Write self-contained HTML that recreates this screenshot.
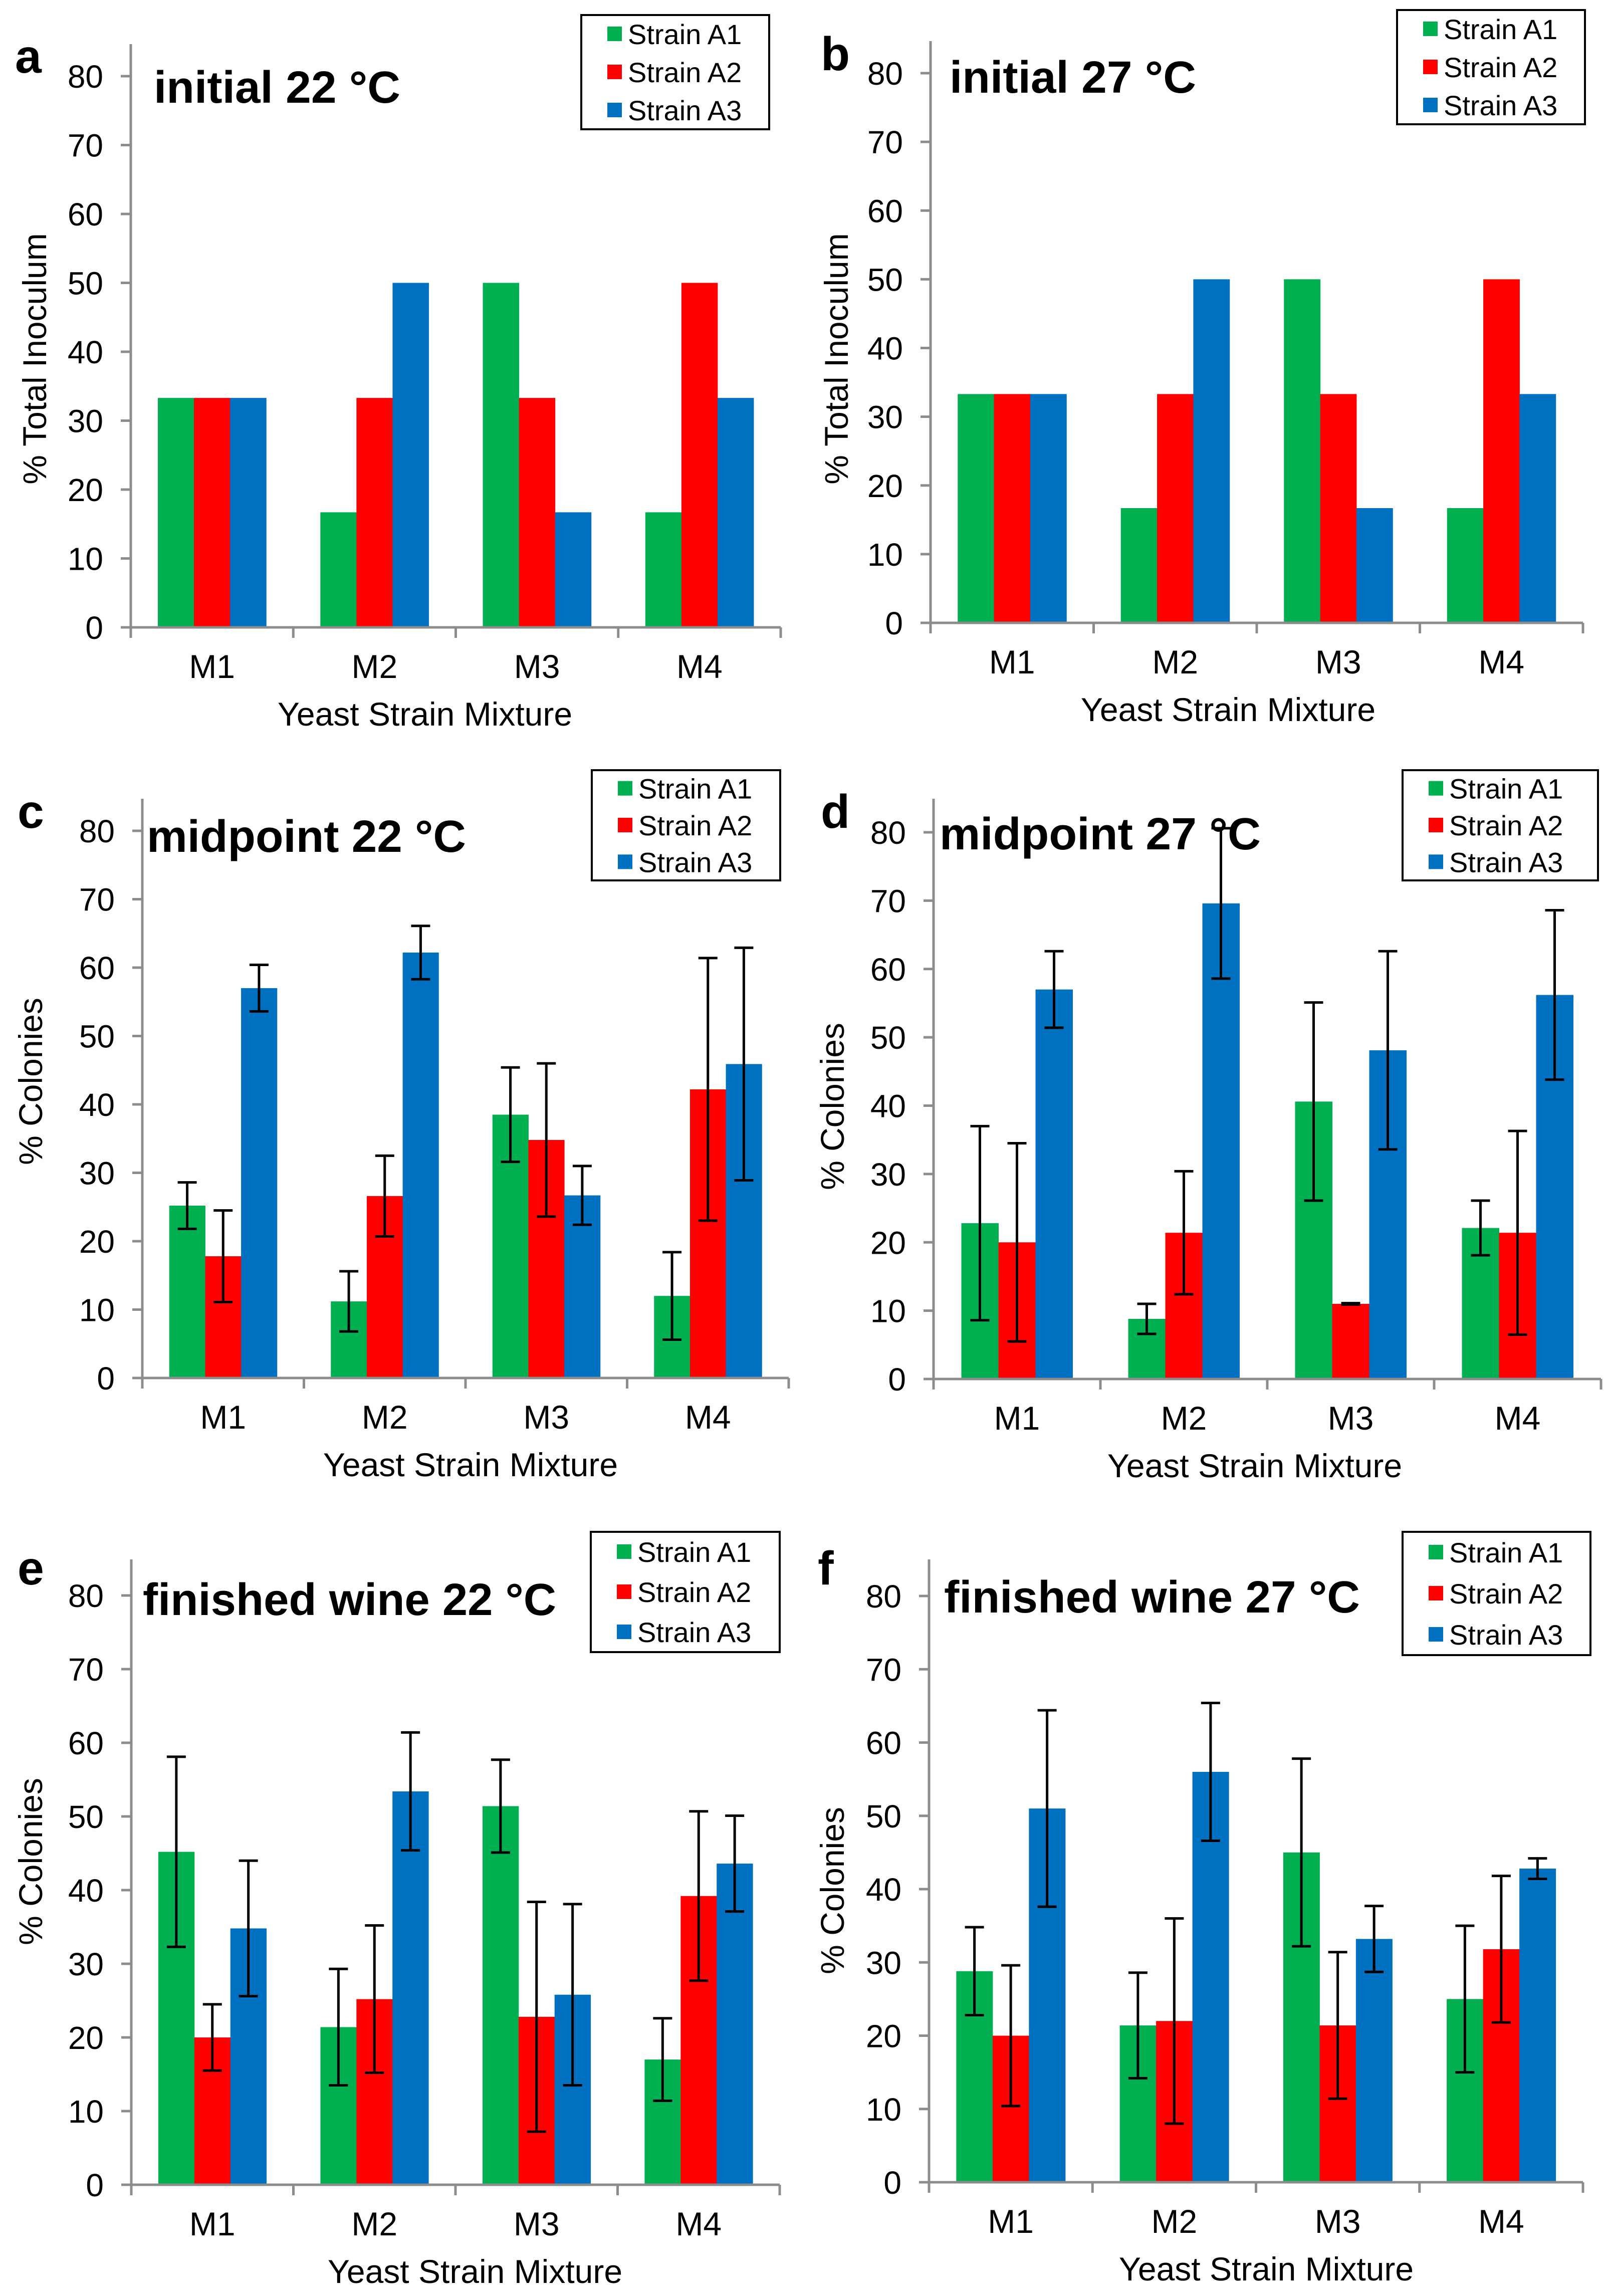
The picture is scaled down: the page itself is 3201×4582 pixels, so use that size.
<!DOCTYPE html>
<html><head><meta charset="utf-8"><style>
html,body{margin:0;padding:0;background:#fff}
svg{display:block}
text{font-family:"Liberation Sans",Arial,sans-serif;fill:#000}
</style></head><body>
<svg id="fig" xmlns="http://www.w3.org/2000/svg" width="3201" height="4582" viewBox="0 0 3201 4582"></svg>
<script>
const categories = ["M1","M2","M3","M4"];
const seriesNames = ["Strain A1","Strain A2","Strain A3"];
const yTicks = [0,10,20,30,40,50,60,70,80];
// panel a / b : initial inoculum
const aA1 = [33.3,16.7,50,16.7], aA2 = [33.3,33.3,33.3,50], aA3 = [33.3,50,16.7,33.3];
const bA1 = [33.3,16.7,50,16.7], bA2 = [33.3,33.3,33.3,50], bA3 = [33.3,50,16.7,33.3];
// panel c : midpoint 22
const cA1 = [25.2,11.2,38.5,12.0], cA2 = [17.8,26.6,34.8,42.2], cA3 = [57.0,62.2,26.7,45.9];
const cE1 = [3.4,4.4,6.9,6.4], cE2 = [6.7,5.9,11.2,19.2], cE3 = [3.4,3.9,4.3,17.0];
// panel d : midpoint 27
const dA1 = [22.8,8.8,40.6,22.1], dA2 = [20.0,21.4,11.0,21.4], dA3 = [57.0,69.6,48.1,56.2];
const dE1 = [14.2,2.2,14.5,4.0], dE2 = [14.5,9.0,0.1,14.9], dE3 = [5.6,11.0,14.5,12.4];
// panel e : finished 22
const eA1 = [45.2,21.4,51.4,17.0], eA2 = [20.0,25.2,22.8,39.2], eA3 = [34.8,53.4,25.8,43.6];
const eE1 = [12.9,7.9,6.3,5.6], eE2 = [4.5,10.0,15.6,11.5], eE3 = [9.2,8.0,12.3,6.5];
// panel f : finished 27
const fA1 = [28.8,21.4,45.0,25.0], fA2 = [20.0,22.0,21.4,31.8], fA3 = [51.0,56.0,33.2,42.8];
const fE1 = [6.0,7.2,12.8,10.0], fE2 = [9.6,14.0,10.0,10.0], fE3 = [13.4,9.4,4.5,1.4];

const colors = ["#00B050","#FF0000","#0070C0"];
const NS = "http://www.w3.org/2000/svg";
const svg = document.getElementById("fig");
function el(tag, attrs, parent){const e=document.createElementNS(NS,tag);for(const k in attrs)e.setAttribute(k,attrs[k]);(parent||svg).appendChild(e);return e;}

const panels = [
 {id:"a",ax:261,y0:1252,y80:152,right:1558,top:88,title:"initial 22 °C",tx:307,ty:205,tw:492,ylab:"% Total Inoculum",ylx:92,ylc:716,xlc:848,lx:1160,ly:30,lw:375,lh:228,letterX:30,letterY:145,vals:[aA1,aA2,aA3],errs:null},
 {id:"b",ax:1857,y0:1243,y80:146,right:3159,top:82,title:"initial 27 °C",tx:1895,ty:185,tw:492,ylab:"% Total Inoculum",ylx:1692,ylc:716,xlc:2451,lx:2788,ly:20,lw:375,lh:228,letterX:1638,letterY:140,vals:[bA1,bA2,bA3],errs:null},
 {id:"c",ax:284,y0:2750,y80:1658,right:1574,top:1594,title:"midpoint 22 °C",tx:293,ty:1700,tw:637,ylab:"% Colonies",ylx:84,ylc:2158,xlc:939,lx:1181,ly:1537,lw:376,lh:220,letterX:35,letterY:1652,vals:[cA1,cA2,cA3],errs:[cE1,cE2,cE3]},
 {id:"d",ax:1863,y0:2752,y80:1661,right:3195,top:1594,title:"midpoint 27 °C",tx:1875,ty:1695,tw:641,ylab:"% Colonies",ylx:1684,ylc:2208,xlc:2504,lx:2799,ly:1537,lw:390,lh:220,letterX:1638,letterY:1652,vals:[dA1,dA2,dA3],errs:[dE1,dE2,dE3]},
 {id:"e",ax:262,y0:4360,y80:3184,right:1556,top:3112,title:"finished wine 22 °C",tx:285,ty:3223,tw:825,ylab:"% Colonies",ylx:84,ylc:3715,xlc:948,lx:1179,ly:3057,lw:377,lh:240,letterX:35,letterY:3162,vals:[eA1,eA2,eA3],errs:[eE1,eE2,eE3]},
 {id:"f",ax:1854,y0:4355,y80:3185,right:3159,top:3112,title:"finished wine 27 °C",tx:1884,ty:3218,tw:830,ylab:"% Colonies",ylx:1684,ylc:3773,xlc:2527,lx:2799,ly:3057,lw:375,lh:246,letterX:1632,letterY:3162,vals:[fA1,fA2,fA3],errs:[fE1,fE2,fE3]}
];

panels.forEach(p=>{
  const g = el("g",{});
  
  
  const yScale = v => p.y0 - (p.y0-p.y80)*v/80;
  const cw = (p.right-p.ax)/categories.length;
  const bw = cw/4.5;
  const xBand = (ci,si) => p.ax + ci*cw + bw*0.75 + si*bw;

  p.vals.forEach((arr,si)=>{
    arr.forEach((v,ci)=>{
      const r = el("rect",{x:xBand(ci,si),y:yScale(v),width:bw+0.5,height:p.y0-yScale(v),fill:colors[si]},g);
      
      
    });
  });
  if(p.errs){
    p.errs.forEach((arr,si)=>{
      arr.forEach((e,ci)=>{
        const cx = xBand(ci,si)+bw/2, v=p.vals[si][ci];
        const eg = el("g",{stroke:"#000","stroke-width":5},g);
        
        
        el("line",{x1:cx,x2:cx,y1:yScale(v+e),y2:yScale(v-e)},eg);
        el("line",{x1:cx-19,x2:cx+19,y1:yScale(v+e),y2:yScale(v+e)},eg);
        el("line",{x1:cx-19,x2:cx+19,y1:yScale(v-e),y2:yScale(v-e)},eg);
      });
    });
  }
  const yAxis = el("line",{x1:p.ax,x2:p.ax,y1:p.top,y2:p.y0+21,stroke:"#8c8c8c","stroke-width":5},g);
  
  
  const xAxis = el("line",{x1:p.ax-20,x2:p.right,y1:p.y0,y2:p.y0,stroke:"#8c8c8c","stroke-width":5},g);
  
  
  yTicks.forEach(t=>{
    const y=yScale(t);
    el("line",{x1:p.ax-20,x2:p.ax,y1:y,y2:y,stroke:"#8c8c8c","stroke-width":5},g);
    const tl = el("text",{x:p.ax-55,y:y+23,"font-size":64,"text-anchor":"end"},g);
    tl.textContent = t;
    
    
  });
  for(let i=1;i<=categories.length;i++){
    const x=p.ax+i*cw;
    el("line",{x1:x,x2:x,y1:p.y0,y2:p.y0+21,stroke:"#8c8c8c","stroke-width":5},g);
  }
  categories.forEach((c,ci)=>{
    const t = el("text",{x:p.ax+(ci+0.5)*cw,y:p.y0+101,"font-size":66,"text-anchor":"middle"},g);
    t.textContent = c;
    
    
  });
  const xl = el("text",{x:p.xlc,y:p.y0+196,"font-size":66,"text-anchor":"middle"},g);
  xl.textContent = "Yeast Strain Mixture";
  
  
  const yl = el("text",{x:0,y:0,"font-size":66,"text-anchor":"middle",transform:`translate(${p.ylx},${p.ylc}) rotate(-90)`},g);
  yl.textContent = p.ylab;
  
  
  const tt = el("text",{x:p.tx,y:p.ty,"font-size":90,"font-weight":"bold",textLength:p.tw,lengthAdjust:"spacingAndGlyphs"},g);
  tt.textContent = p.title;
  
  
  const lt = el("text",{x:p.letterX,y:p.letterY,"font-size":95,"font-weight":"bold"},g);
  lt.textContent = p.id;
  
  
  const lg = el("g",{},g);
  
  
  el("rect",{x:p.lx,y:p.ly,width:p.lw,height:p.lh,fill:"#fff",stroke:"#000","stroke-width":4},lg);
  const step = p.lh/3;
  seriesNames.forEach((n,si)=>{
    const cy = p.ly + step*(si+0.5);
    const le = el("g",{},lg);
    
    
    el("rect",{x:p.lx+52,y:cy-15,width:29,height:29,fill:colors[si]},le);
    const lt2 = el("text",{x:p.lx+93,y:cy+20,"font-size":56},le);
    lt2.textContent = n;
  });
});
</script>
</body></html>
